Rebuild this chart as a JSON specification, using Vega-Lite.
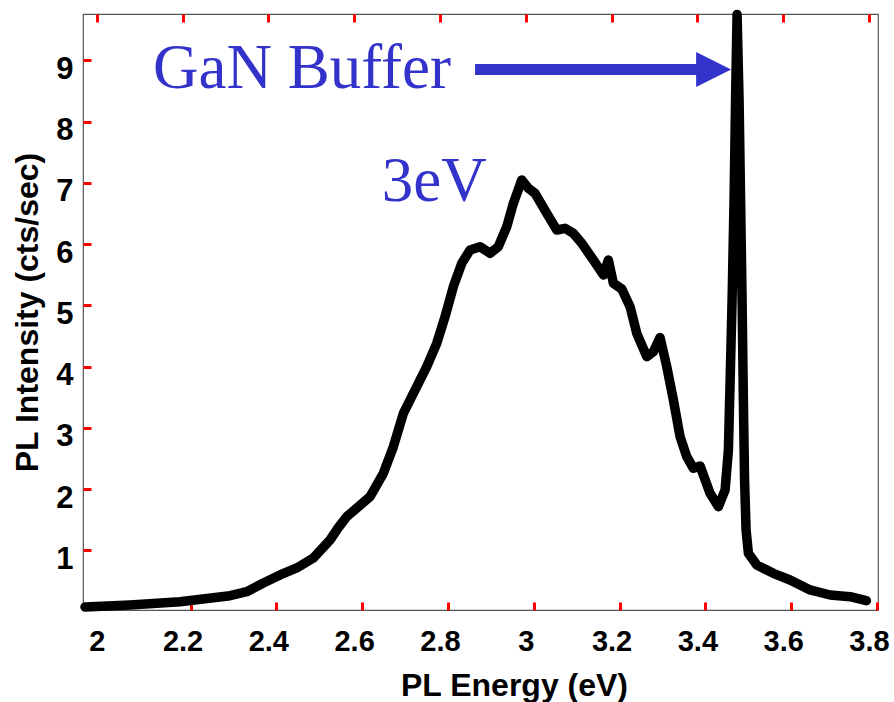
{
  "$schema": "https://vega.github.io/schema/vega-lite/v6.json",
  "width": 795,
  "height": 596,
  "autosize": {"type": "none"},
  "padding": {"left": 83, "top": 14, "right": 16, "bottom": 92},
  "background": "white",
  "config": {"view": {"stroke": "#555", "strokeWidth": 1.2}, "font": "Liberation Sans"},
  "resolve": {"axis": {"x": "independent", "y": "independent"}},
  "datasets": {
    "pl": [
      {"E": 1.9727, "I": 0.074}, {"E": 2.0776, "I": 0.107}, {"E": 2.1942, "I": 0.161},
      {"E": 2.3107, "I": 0.259}, {"E": 2.3497, "I": 0.324}, {"E": 2.3883, "I": 0.466},
      {"E": 2.4273, "I": 0.597}, {"E": 2.4662, "I": 0.711}, {"E": 2.5049, "I": 0.874},
      {"E": 2.5438, "I": 1.168}, {"E": 2.5625, "I": 1.364}, {"E": 2.5828, "I": 1.548},
      {"E": 2.6371, "I": 1.875}, {"E": 2.6681, "I": 2.257}, {"E": 2.6914, "I": 2.691},
      {"E": 2.7147, "I": 3.237}, {"E": 2.7459, "I": 3.671}, {"E": 2.7692, "I": 3.997},
      {"E": 2.7925, "I": 4.38}, {"E": 2.8119, "I": 4.814}, {"E": 2.8312, "I": 5.304},
      {"E": 2.8508, "I": 5.686}, {"E": 2.8702, "I": 5.903}, {"E": 2.8935, "I": 5.957},
      {"E": 2.9168, "I": 5.849}, {"E": 2.9361, "I": 5.957}, {"E": 2.9557, "I": 6.283},
      {"E": 2.9711, "I": 6.665}, {"E": 2.9907, "I": 7.046}, {"E": 3.0061, "I": 6.91},
      {"E": 3.0217, "I": 6.828}, {"E": 3.049, "I": 6.502}, {"E": 3.0723, "I": 6.229},
      {"E": 3.0916, "I": 6.257}, {"E": 3.111, "I": 6.175}, {"E": 3.1305, "I": 6.012},
      {"E": 3.1576, "I": 5.74}, {"E": 3.1809, "I": 5.495}, {"E": 3.1925, "I": 5.74},
      {"E": 3.2042, "I": 5.359}, {"E": 3.2238, "I": 5.266}, {"E": 3.2431, "I": 4.977},
      {"E": 3.2587, "I": 4.543}, {"E": 3.2821, "I": 4.161}, {"E": 3.2975, "I": 4.242},
      {"E": 3.313, "I": 4.474}, {"E": 3.3287, "I": 3.997}, {"E": 3.3441, "I": 3.454},
      {"E": 3.3597, "I": 2.854}, {"E": 3.3753, "I": 2.528}, {"E": 3.3907, "I": 2.339},
      {"E": 3.4063, "I": 2.376}, {"E": 3.4296, "I": 1.93}, {"E": 3.449, "I": 1.712},
      {"E": 3.4646, "I": 1.984}, {"E": 3.4723, "I": 2.637}, {"E": 3.4762, "I": 3.731},
      {"E": 3.4809, "I": 5.086}, {"E": 3.4855, "I": 6.719}, {"E": 3.489, "I": 8.352},
      {"E": 3.4925, "I": 9.748}, {"E": 3.4972, "I": 8.352}, {"E": 3.5007, "I": 6.719},
      {"E": 3.5042, "I": 5.086}, {"E": 3.5072, "I": 3.454}, {"E": 3.51, "I": 2.148},
      {"E": 3.5135, "I": 1.331}, {"E": 3.5189, "I": 0.951}, {"E": 3.5385, "I": 0.76},
      {"E": 3.5771, "I": 0.624}, {"E": 3.6161, "I": 0.515}, {"E": 3.6627, "I": 0.352},
      {"E": 3.7094, "I": 0.27}, {"E": 3.756, "I": 0.242}, {"E": 3.7939, "I": 0.177}
    ],
    "ann": [
      {"label": "GaN Buffer", "x": 2.1312, "y": 8.548},
      {"label": "3eV", "x": 2.6643, "y": 6.703}
    ],
    "arrow": [{"x": 2.8818, "x2": 3.4063, "y": 8.85, "xh": 3.4378}]
  },
  "layer": [
    {
      "data": {"name": "pl"},
      "mark": {"type": "line", "color": "black", "strokeWidth": 9.5, "strokeCap": "round", "strokeJoin": "round"},
      "encoding": {
        "x": {
          "field": "E", "type": "quantitative",
          "scale": {"domain": [1.968, 3.821], "nice": false, "zero": false},
          "axis": {
            "orient": "bottom",
            "title": "PL Energy (eV)",
            "values": [2, 2.2, 2.4, 2.6, 2.8, 3, 3.2, 3.4, 3.6, 3.8],
            "format": "~g",
            "domain": false, "grid": false,
            "tickSize": 0,
            "labelPadding": 17, "labelBaseline": "top",
            "labelFont": "Liberation Sans", "labelFontWeight": "bold", "labelFontSize": 29, "labelColor": "black",
            "titleFont": "Liberation Sans", "titleFontWeight": "bold", "titleFontSize": 32, "titleColor": "black",
            "titleX": 431, "titleY": 85, "titleAlign": "center", "titleBaseline": "alphabetic"
          }
        },
        "y": {
          "field": "I", "type": "quantitative",
          "scale": {"domain": [0.025, 9.756], "nice": false, "zero": false},
          "axis": {
            "orient": "left",
            "title": "PL Intensity (cts/sec)",
            "values": [1, 2, 3, 4, 5, 6, 7, 8, 9],
            "domain": false, "grid": false,
            "tickSize": 0,
            "labelOffset": 9, "labelPadding": 10,
            "labelFont": "Liberation Sans", "labelFontWeight": "bold", "labelFontSize": 31, "labelColor": "black",
            "titleFont": "Liberation Sans", "titleFontWeight": "bold", "titleFontSize": 32, "titleColor": "black",
            "titleX": -46, "titleY": 298, "titleAlign": "center", "titleBaseline": "alphabetic", "titleAngle": -90
          }
        }
      }
    },
    {
      "data": {"name": "arrow"},
      "mark": {"type": "rule", "color": "#3333CC", "strokeWidth": 11, "strokeCap": "butt"},
      "encoding": {
        "x": {
          "field": "x", "type": "quantitative",
          "axis": {"orient": "top", "offset": -596, "title": null, "labels": false, "domain": false,
                   "gridColor": "white", "gridOpacity": 0,
                   "values": [2, 2.2, 2.4, 2.6, 2.8, 3, 3.2, 3.4, 3.6, 3.8], "tickSize": 8, "tickOffset": 8, "tickColor": "red", "tickWidth": 3}
        },
        "x2": {"field": "x2"},
        "y": {
          "field": "y", "type": "quantitative",
          "axis": {"orient": "right", "offset": -795, "title": null, "labels": false, "domain": false,
                   "gridColor": "white", "gridOpacity": 0,
                   "values": [1, 2, 3, 4, 5, 6, 7, 8, 9], "tickSize": 8, "tickColor": "red", "tickWidth": 3}
        }
      }
    },
    {
      "data": {"name": "arrow"},
      "mark": {"type": "point", "shape": "M-1,-1L1,0L-1,1Z", "size": 1225, "filled": true, "color": "#3333CC", "opacity": 1, "strokeWidth": 0},
      "encoding": {
        "x": {
          "field": "xh", "type": "quantitative",
          "axis": {"orient": "bottom", "offset": -596, "title": null, "labels": false, "domain": false,
                   "gridColor": "white", "gridOpacity": 0,
                   "values": [2, 2.2, 2.4, 2.6, 2.8, 3, 3.2, 3.4, 3.6, 3.8], "tickSize": 8, "tickColor": "red", "tickWidth": 3}
        },
        "y": {"field": "y", "type": "quantitative", "axis": null}
      }
    },
    {
      "data": {"name": "ann"},
      "mark": {"type": "text", "font": "Liberation Serif", "fontSize": 63, "color": "#3333CC", "align": "left", "baseline": "alphabetic"},
      "encoding": {
        "x": {"field": "x", "type": "quantitative", "axis": null},
        "y": {"field": "y", "type": "quantitative", "axis": null},
        "text": {"field": "label"}
      }
    }
  ]
}
